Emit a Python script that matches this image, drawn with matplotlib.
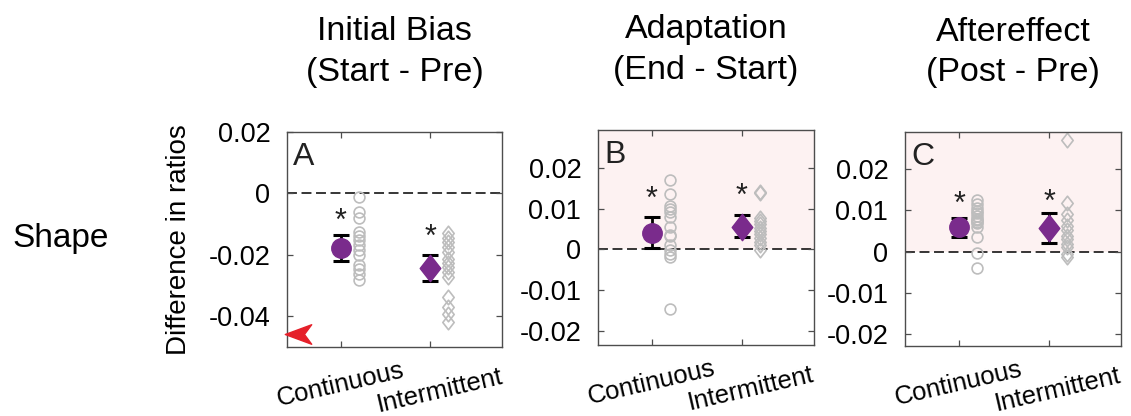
import numpy as np
import matplotlib
matplotlib.use("Agg")
import matplotlib.pyplot as plt
from matplotlib.path import Path
from matplotlib.transforms import ScaledTranslation

plt.rcParams["font.family"] = ["Liberation Sans", "DejaVu Sans"]
plt.rcParams["axes.unicode_minus"] = False

# ── Data ────────────────────────────────────────────────────────────────────
GROUPS = ["Continuous", "Intermittent"]
PANEL_LETTERS = ["A", "B", "C"]
TITLES = ["Initial Bias\n(Start - Pre)", "Adaptation\n(End - Start)", "Aftereffect\n(Post - Pre)"]
ROW_LABEL = "Shape"
YLABEL = "Difference in ratios"

# individual subjects (continuous = circles, intermittent = diamonds)
cont_A = [-0.0010, -0.0059, -0.0079, -0.0125, -0.0138, -0.0152, -0.0168,
          -0.0185, -0.0201, -0.0234, -0.0245, -0.0261, -0.0283]
inter_A = [-0.0130, -0.0144, -0.0157, -0.0174, -0.0190, -0.0212, -0.0228,
           -0.0239, -0.0256, -0.0272, -0.0338, -0.0370, -0.0392, -0.0417]
cont_B = [0.0170, 0.0137, 0.0107, 0.0099, 0.0091, 0.0080, 0.0054, 0.0034,
          0.0032, 0.0010, -0.0002, -0.0011, -0.0019, -0.0147]
inter_B = [0.0141, 0.0139, 0.0077, 0.0069, 0.0061, 0.0053, 0.0045, 0.0037,
           0.0029, 0.0018, 0.0010, -0.0001]
cont_C = [0.0125, 0.0115, 0.0107, 0.0099, 0.0093, 0.0086, 0.0080, 0.0078,
          0.0072, 0.0069, 0.0059, 0.0035, -0.0002, -0.0038]
inter_C = [0.0270, 0.0119, 0.0091, 0.0077, 0.0062, 0.0053, 0.0038, 0.0030,
           0.0020, 0.0011, -0.0006, -0.0012]

# group means with error bar ends
mean_A = [-0.0177, -0.0243]
err_lo_A = [-0.0220, -0.0285]
err_hi_A = [-0.0134, -0.0199]
mean_B = [0.0040, 0.0056]
err_lo_B = [0.0002, 0.0030]
err_hi_B = [0.0079, 0.0085]
mean_C = [0.0059, 0.0057]
err_lo_C = [0.0035, 0.0022]
err_hi_C = [0.0083, 0.0094]

# significance star heights
star_A = [-0.0062, -0.0114]
star_B = [0.0146, 0.0152]
star_C = [0.0137, 0.0141]

# out-of-range indicator in panel A
arrow_x = [0.52]
arrow_y = [-0.0458]

YTICKS_A = [0.02, 0, -0.02, -0.04]
YTICKLABELS_A = ["0.02", "0", "-0.02", "-0.04"]
YTICKS_BC = [0.02, 0.01, 0, -0.01, -0.02]
YTICKLABELS_BC = ["0.02", "0.01", "0", "-0.01", "-0.02"]

# ── Style ───────────────────────────────────────────────────────────────────
C_MEAN = "#7a2b8c"
C_SUBJ = "#bdbdbd"
C_SHADE = "#fdf2f2"
C_ARROW = "#e5202a"
C_SPINE = "#4d4d4d"

DIAMOND = Path([(0, 1), (0.78, 0), (0, -1), (-0.78, 0), (0, 1)],
               [Path.MOVETO, Path.LINETO, Path.LINETO, Path.LINETO, Path.CLOSEPOLY])
ARROWHEAD = Path([(-1, 0), (1, 0.74), (0.45, 0), (1, -0.74), (-1, 0)],
                 [Path.MOVETO, Path.LINETO, Path.LINETO, Path.LINETO, Path.CLOSEPOLY])

# staggered group labels under the x axis (pixel offsets)
LABEL_SHIFT = [(0, -11), (9, -18)]

W, H = 1131, 416
fig = plt.figure(figsize=(W / 100, H / 100), dpi=100)


def px_axes(left, top, right, bottom):
    return fig.add_axes([left / W, 1 - bottom / H, (right - left) / W, (bottom - top) / H])


axes = [px_axes(287, 132, 502, 347), px_axes(598, 130, 814, 345), px_axes(905, 132, 1121, 346)]

panels = [
    (cont_A, inter_A, mean_A, err_lo_A, err_hi_A, star_A, (-0.05, 0.02)),
    (cont_B, inter_B, mean_B, err_lo_B, err_hi_B, star_B, (-0.0235, 0.0293)),
    (cont_C, inter_C, mean_C, err_lo_C, err_hi_C, star_C, (-0.0228, 0.029)),
]

x_grp = np.array([1, 2])
x_off = 0.2

for i, (ax, (cont, inter, mean, lo, hi, stars, ylim)) in enumerate(zip(axes, panels)):
    ax.set_xlim(0.4, 2.8)
    ax.set_ylim(*ylim)
    if i > 0:
        ax.axhspan(0, ylim[1], color=C_SHADE, lw=0, zorder=0)
    ax.axhline(0, color="k", lw=1.1, ls=(0, (6.5, 3)), zorder=1)

    ax.plot(np.full(len(cont), x_grp[0] + x_off), cont, ls="none", marker="o",
            ms=7.8, mfc="none", mec=C_SUBJ, mew=1.2, zorder=2)
    ax.plot(np.full(len(inter), x_grp[1] + x_off), inter, ls="none", marker=DIAMOND,
            ms=10.5, mfc="none", mec=C_SUBJ, mew=1.2, zorder=2)

    mean = np.array(mean)
    yerr = [mean - np.array(lo), np.array(hi) - mean]
    ax.errorbar(x_grp, mean, yerr=yerr, fmt="none", ecolor="k", elinewidth=2,
                capsize=5.5, capthick=2.2, zorder=3)
    ax.plot(x_grp[0], mean[0], ls="none", marker="o", ms=14, color=C_MEAN, zorder=4)
    ax.plot(x_grp[1], mean[1], ls="none", marker=DIAMOND, ms=19, color=C_MEAN, zorder=4)

    for xs, ys in zip(x_grp, stars):
        ax.annotate("*", xy=(xs, ys), xytext=(0, -0.575 * 22), textcoords="offset points",
                    ha="center", va="baseline", fontsize=22, color="#222222")

    ax.text(0.028, 0.955, PANEL_LETTERS[i], transform=ax.transAxes, ha="left", va="top",
            fontsize=23, color="#222222")
    ax.text(0.5, 1.205, TITLES[i], transform=ax.transAxes, ha="center", va="bottom",
            fontsize=24.5, linespacing=1.4)

    if i == 0:
        ax.set_yticks(YTICKS_A)
        ax.set_yticklabels(YTICKLABELS_A)
    else:
        ax.set_yticks(YTICKS_BC)
        ax.set_yticklabels(YTICKLABELS_BC)

    ax.set_xticks(x_grp)
    ax.set_xticklabels([])
    for xs, name, (dx, dy) in zip(x_grp, GROUPS, LABEL_SHIFT):
        tr = ax.get_xaxis_transform() + ScaledTranslation(dx / 100, dy / 100, fig.dpi_scale_trans)
        ax.text(xs, 0, name, transform=tr, rotation=13, ha="center", va="top",
                fontsize=18.5, clip_on=False)

    ax.tick_params(direction="in", top=True, right=True, length=4, width=0.9,
                   color=C_SPINE)
    ax.tick_params(axis="y", pad=12, labelsize=19.5)
    for sp in ax.spines.values():
        sp.set_color(C_SPINE)
        sp.set_linewidth(1.0)

axes[0].plot(arrow_x, arrow_y, ls="none", marker=ARROWHEAD, ms=19, color=C_ARROW,
             zorder=5, clip_on=False)

axes[0].set_ylabel(YLABEL, fontsize=20)
axes[0].yaxis.set_label_coords(-0.44, 0.5)

fig.text(12 / W, 1 - 238 / H, ROW_LABEL, ha="left", va="center", fontsize=24)

fig.savefig("out.png", dpi=100)
